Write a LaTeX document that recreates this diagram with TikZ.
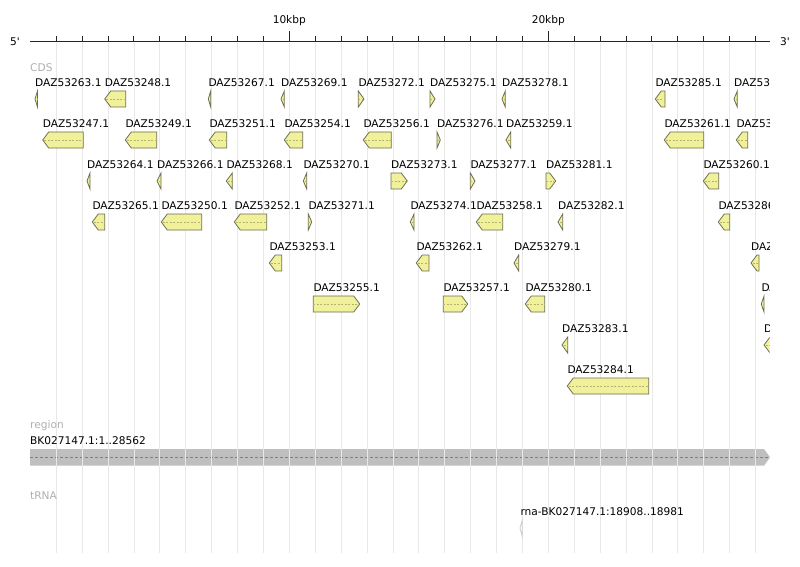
\documentclass[tikz,border=0pt]{standalone}
\usepackage{fontspec}
\setmainfont{DejaVu Sans}[Ligatures=TeXOff]
\definecolor{featfill}{RGB}{241,241,155}
\definecolor{featline}{RGB}{110,110,80}
\definecolor{featmid}{RGB}{180,180,110}
\definecolor{gridc}{RGB}{232,232,232}
\definecolor{trackc}{RGB}{176,176,176}
\definecolor{regfill}{RGB}{191,191,191}
\definecolor{regdash}{RGB}{128,128,128}
\tikzset{
  feat/.style={fill=featfill, draw=featline, line width=0.8pt, line join=miter},
  featmidline/.style={draw=featmid, dash pattern=on 2pt off 1.5pt, line width=0.6pt},
  lab/.style={font=\fontsize{10.6}{12}\selectfont, inner sep=0pt, anchor=base west, text=black},
  tracklab/.style={font=\fontsize{10.6}{12}\selectfont, inner sep=0pt, anchor=base west, text=trackc},
  axlab/.style={font=\fontsize{10.6}{12}\selectfont, inner sep=0pt, anchor=base},
  gridline/.style={draw=gridc, line width=0.8pt},
  axisline/.style={draw=black!85, line width=1.2pt},
  ticks/.style={draw=black!85, line width=1pt}
}
\newcommand{\featL}[4]{%
  \pgfmathsetmacro{\hx}{#1+min(6,#2-#1)}%
  \draw[feat] (#1,#3) -- (\hx,#3-8) -- (#2,#3-8) -- (#2,#3+8) -- (\hx,#3+8) -- cycle;
  \draw[featmidline] (#1+1.5,#3) -- (#2,#3);
  \node[lab] (n#4) at (#1,#3-12.5) {#4};
}
\newcommand{\featR}[4]{%
  \pgfmathsetmacro{\hx}{#2-min(6,#2-#1)}%
  \draw[feat] (#2,#3) -- (\hx,#3-8) -- (#1,#3-8) -- (#1,#3+8) -- (\hx,#3+8) -- cycle;
  \draw[featmidline] (#1,#3) -- (#2-1.5,#3);
  \node[lab] (n#4) at (#1,#3-12.5) {#4};
}
\begin{document}
\begin{tikzpicture}[x=1pt,y=-1pt]
\useasboundingbox[fill=white] (0,0) rectangle (800,567);
% region bar
\fill[regfill] (30,449) -- (764,449) -- (770,457.3) -- (764,465.7) -- (30,465.7) -- cycle;
\draw[regdash, dash pattern=on 3pt off 2pt, line width=0.8pt] (30,457.3) -- (768,457.3);
% grid
\foreach \k in {1,...,28} {
  \draw[gridline] (30.3+25.9*\k,43) -- (30.3+25.9*\k,553);
}
% axis
\draw[axisline] (30,41.5) -- (770,41.5);
\foreach \k in {1,...,28} {
  \draw[ticks] (30.3+25.9*\k,36) -- (30.3+25.9*\k,41.5);
}
\draw[ticks] (289.3,31) -- (289.3,41.5);
\draw[ticks] (548.3,31) -- (548.3,41.5);
\node[axlab] (k10) at (289.3,23.5) {10kbp};
\node[axlab] (k20) at (548.3,23.5) {20kbp};
\node[axlab] (five) at (15,46) {5'};
\node[axlab] (three) at (785,46) {3'};
% track labels
\node[tracklab] (cds) at (30,71.5) {CDS};
\node[tracklab] (reg) at (30,428) {region};
\node[tracklab] (trna) at (30,499.7) {tRNA};
\node[lab] (regname) at (30,444.8) {BK027147.1:1..28562};
% tRNA feature
\draw[draw=black!20, fill=white, line width=0.8pt] (520,528) -- (522.3,520) -- (522.3,536.5) -- cycle;
\node[lab] (trnaname) at (520.3,515.5) {rna-BK027147.1:18908..18981};
\begin{scope}
\clip (0,0) rectangle (769.5,567);
% Row 1
\featL{35}{37.5}{99}{DAZ53263.1}
\featL{104.7}{125.7}{99}{DAZ53248.1}
\featL{208.3}{210.7}{99}{DAZ53267.1}
\featL{281}{284.3}{99}{DAZ53269.1}
\featR{358.3}{364}{99}{DAZ53272.1}
\featR{430}{435}{99}{DAZ53275.1}
\featL{502}{505.3}{99}{DAZ53278.1}
\featL{655.3}{665}{99}{DAZ53285.1}
\featL{734}{737.3}{99}{DAZ53287.1}
% Row 2
\featL{42.7}{83.3}{140}{DAZ53247.1}
\featL{125.3}{156.7}{140}{DAZ53249.1}
\featL{209.3}{226.7}{140}{DAZ53251.1}
\featL{284.3}{302.7}{140}{DAZ53254.1}
\featL{363.3}{391.3}{140}{DAZ53256.1}
\featR{437}{440.3}{140}{DAZ53276.1}
\featL{506}{510.7}{140}{DAZ53259.1}
\featL{664.3}{703.7}{140}{DAZ53261.1}
\featL{736.3}{747.7}{140}{DAZ53288.1}
% Row 3
\featL{87}{90}{181}{DAZ53264.1}
\featL{157}{161}{181}{DAZ53266.1}
\featL{226.3}{232.3}{181}{DAZ53268.1}
\featL{303.3}{306.7}{181}{DAZ53270.1}
\featR{391}{407.3}{181}{DAZ53273.1}
\featR{470.3}{475}{181}{DAZ53277.1}
\featR{546}{555.7}{181}{DAZ53281.1}
\featL{703.3}{718.7}{181}{DAZ53260.1}
% Row 4
\featL{92.3}{104.7}{222}{DAZ53265.1}
\featL{161.3}{201.7}{222}{DAZ53250.1}
\featL{234.3}{266.7}{222}{DAZ53252.1}
\featR{308.3}{311.7}{222}{DAZ53271.1}
\featL{410.3}{414}{222}{DAZ53274.1}
\featL{476.3}{502.7}{222}{DAZ53258.1}
\featL{558}{562.7}{222}{DAZ53282.1}
\featL{718.3}{729.7}{222}{DAZ53286.1}
% Row 5
\featL{269.3}{281.7}{263}{DAZ53253.1}
\featL{416.3}{429}{263}{DAZ53262.1}
\featL{514}{518.7}{263}{DAZ53279.1}
\featL{751}{759}{263}{DAZ53289.1}
% Row 6
\featR{313.3}{359.7}{304}{DAZ53255.1}
\featR{443.3}{467.7}{304}{DAZ53257.1}
\featL{525.3}{544.7}{304}{DAZ53280.1}
\featL{761.3}{764}{304}{DAZ53290.1}
% Row 7
\featL{562}{567.7}{345}{DAZ53283.1}
\featL{764}{772}{345}{DAZ53291.1}
% Row 8
\featL{567.3}{648.7}{386}{DAZ53284.1}
\end{scope}
\end{tikzpicture}
\end{document}
